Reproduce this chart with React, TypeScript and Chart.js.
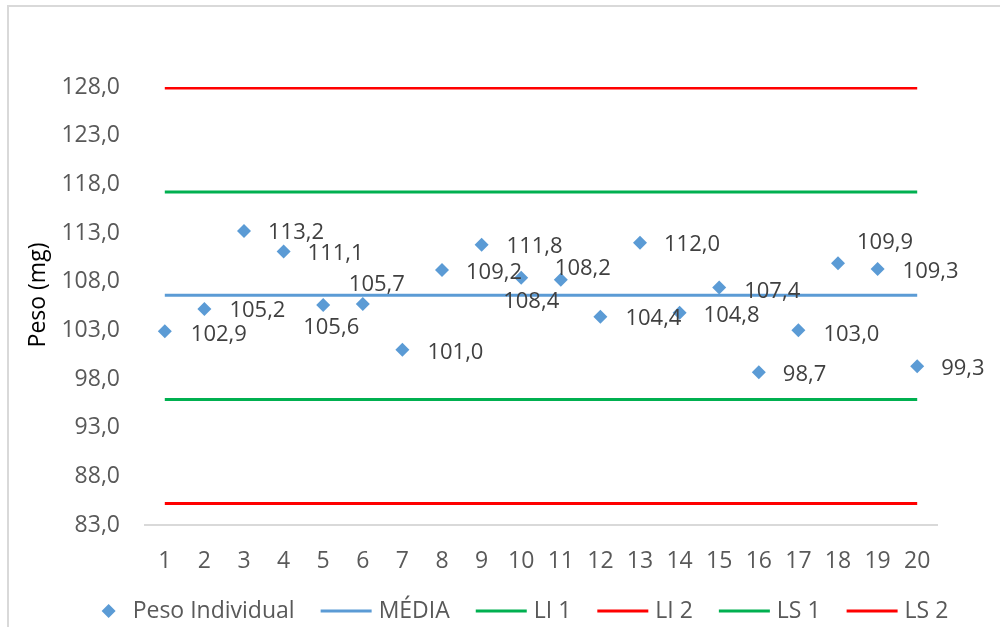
import { useEffect, useRef } from "react";
import { Chart, registerables } from "chart.js";

Chart.register(...registerables);

// Amostras (eixo X)
const amostras = ["1", "2", "3", "4", "5", "6", "7", "8", "9", "10", "11", "12", "13", "14", "15", "16", "17", "18", "19", "20"];

// Peso individual de cada comprimido (mg)
const pesoIndividual = [102.9, 105.2, 113.2, 111.1, 105.6, 105.7, 101.0, 109.2, 111.8, 108.4, 108.2, 104.4, 112.0, 104.8, 107.4, 98.7, 103.0, 109.9, 109.3, 99.3];

// Média e limites de controle
const media = 106.6;
const limiteInferior1 = 95.9;
const limiteInferior2 = 85.2;
const limiteSuperior1 = 117.2;
const limiteSuperior2 = 127.9;

// Escala do eixo Y
const yMin = 83;
const yMax = 128;
const yStep = 5;
const yTitulo = "Peso (mg)";

// Deslocamento (px) de cada rótulo de dado em relação ao marcador: [dx da borda esquerda, dy do centro]
const labelOffsets: [number, number][] = [
  [26, 3], [25, 2], [24, 2], [24, 2], [-20, 23], [-14, -19], [25, 3], [24, 3], [25, 2], [-18, 24],
  [-6, -11], [25, 2], [24, 2], [24, 3], [25, 4], [24, 3], [25, 4], [19, -20], [25, 3], [24, 2],
];

const FONT = "'Open Sans', 'Noto Sans', sans-serif";
const FONT_SIZE = 23;
const LABEL_SIZE = 22;
const BLUE = "#5B9BD5";
const GREEN = "#00B050";
const RED = "#FF0000";

const fmt = (v: number) => v.toFixed(1).replace(".", ",");
const constante = (v: number) => amostras.map(() => v);

export default function App() {
  const canvasRef = useRef<HTMLCanvasElement | null>(null);

  useEffect(() => {
    const canvas = canvasRef.current;
    if (!canvas) return;

    // Moldura cinza da área do gráfico e fundo branco
    const moldura = {
      id: "moldura",
      beforeDraw(chart: any) {
        const { ctx } = chart;
        ctx.save();
        ctx.fillStyle = "#ffffff";
        ctx.fillRect(0, 0, chart.width, chart.height);
        ctx.strokeStyle = "#D9D9D9";
        ctx.lineWidth = 2;
        ctx.strokeRect(8, 6, 1200, 800);
        ctx.restore();
      },
    };

    // Título do eixo Y, girado
    const tituloY = {
      id: "tituloY",
      afterDraw(chart: any) {
        const { ctx } = chart;
        ctx.save();
        ctx.translate(38, 295);
        ctx.rotate(-Math.PI / 2);
        ctx.font = `${FONT_SIZE}px ${FONT}`;
        ctx.fillStyle = "#000000";
        ctx.textAlign = "center";
        ctx.textBaseline = "middle";
        ctx.fillText(yTitulo, 0, 0);
        ctx.restore();
      },
    };

    // Rótulos de valor ao lado de cada marcador
    const rotulos = {
      id: "rotulos",
      afterDatasetsDraw(chart: any) {
        const { ctx } = chart;
        const meta = chart.getDatasetMeta(0);
        ctx.save();
        ctx.font = `${LABEL_SIZE}px ${FONT}`;
        ctx.fillStyle = "#404040";
        ctx.textAlign = "left";
        ctx.textBaseline = "middle";
        meta.data.forEach((pt: any, i: number) => {
          const [dx, dy] = labelOffsets[i];
          ctx.fillText(fmt(pesoIndividual[i]), pt.x + dx, pt.y + dy);
        });
        ctx.restore();
      },
    };

    // Legenda inferior
    const legenda = {
      id: "legenda",
      afterDraw(chart: any) {
        const { ctx } = chart;
        const items = chart.data.datasets.map((ds: any) => ({
          text: ds.label as string,
          color: (ds.borderColor || ds.backgroundColor) as string,
          diamond: ds.showLine === false,
        }));
        ctx.save();
        ctx.font = `${FONT_SIZE}px ${FONT}`;
        const lineW = 51;
        const lineGap = 7;
        const diamondW = 14;
        const diamondGap = 17;
        const itemGap = 26;
        const widths = items.map((it: any) =>
          (it.diamond ? diamondW + diamondGap : lineW + lineGap) + ctx.measureText(it.text).width
        );
        const total = widths.reduce((a: number, b: number) => a + b, 0) + itemGap * (items.length - 1);
        const cy = 611;
        let x = 525 - total / 2;
        items.forEach((it: any) => {
          if (it.diamond) {
            const cx = x + diamondW / 2;
            ctx.fillStyle = it.color;
            ctx.beginPath();
            ctx.moveTo(cx, cy - 7);
            ctx.lineTo(cx + 7, cy);
            ctx.lineTo(cx, cy + 7);
            ctx.lineTo(cx - 7, cy);
            ctx.closePath();
            ctx.fill();
            x += diamondW + diamondGap;
          } else {
            ctx.strokeStyle = it.color;
            ctx.lineWidth = 3;
            ctx.beginPath();
            ctx.moveTo(x, cy);
            ctx.lineTo(x + lineW, cy);
            ctx.stroke();
            x += lineW + lineGap;
          }
          ctx.fillStyle = "#595959";
          ctx.textAlign = "left";
          ctx.textBaseline = "middle";
          ctx.fillText(it.text, x, cy);
          x += ctx.measureText(it.text).width + itemGap;
        });
        ctx.restore();
      },
    };

    const linha = (label: string, valor: number, cor: string) => ({
      label,
      data: constante(valor),
      borderColor: cor,
      backgroundColor: cor,
      borderWidth: 3,
      pointRadius: 0,
      pointHoverRadius: 0,
      fill: false,
      tension: 0,
    });

    const chart = new Chart(canvas, {
      type: "line",
      data: {
        labels: amostras,
        datasets: [
          {
            label: "Peso Individual",
            data: pesoIndividual,
            showLine: false,
            pointStyle: "rectRot",
            pointRadius: 7,
            pointHoverRadius: 7,
            pointBackgroundColor: BLUE,
            pointBorderColor: BLUE,
            pointBorderWidth: 0,
            backgroundColor: BLUE,
            borderColor: BLUE,
          },
          linha("MÉDIA", media, BLUE),
          linha("LI 1", limiteInferior1, GREEN),
          linha("LI 2", limiteInferior2, RED),
          linha("LS 1", limiteSuperior1, GREEN),
          linha("LS 2", limiteSuperior2, RED),
        ],
      },
      options: {
        responsive: false,
        animation: false,
        events: [],
        layout: { padding: { left: 0, top: 87, right: 63, bottom: 0 } },
        plugins: {
          legend: { display: false },
          tooltip: { enabled: false },
        },
        scales: {
          x: {
            type: "category",
            offset: true,
            grid: { display: false, drawTicks: false },
            border: { display: true, color: "#D9D9D9", width: 2 },
            ticks: {
              color: "#595959",
              font: { family: FONT, size: FONT_SIZE },
              padding: 23,
              autoSkip: false,
              maxRotation: 0,
            },
            afterFit(scale: any) {
              scale.height = 102;
            },
          },
          y: {
            type: "linear",
            min: yMin,
            max: yMax,
            grid: { display: false, drawTicks: false },
            border: { display: false },
            ticks: {
              stepSize: yStep,
              color: "#595959",
              font: { family: FONT, size: FONT_SIZE },
              padding: 25,
              callback: (v: any) => fmt(Number(v)),
            },
            afterFit(scale: any) {
              scale.width = 145;
            },
          },
        },
      },
      plugins: [moldura, rotulos, tituloY, legenda],
    });

    return () => chart.destroy();
  }, []);

  return (
    <div style={{ position: "absolute", left: 0, top: 0, width: 1000, height: 627, background: "#fff" }}>
      <canvas ref={canvasRef} width={1000} height={627} />
    </div>
  );
}
